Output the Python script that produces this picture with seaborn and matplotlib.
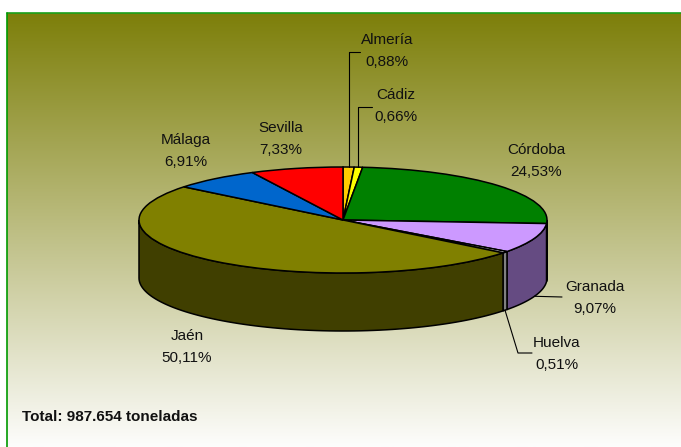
import numpy as np
import matplotlib
matplotlib.use("Agg")
import matplotlib.pyplot as plt
from matplotlib.patches import Polygon
import seaborn as sns

# ---------------- data ----------------
provinces = ["Almería", "Cádiz", "Córdoba", "Granada", "Huelva", "Jaén", "Málaga", "Sevilla"]
shares = [0.88, 0.66, 24.53, 9.07, 0.51, 50.11, 6.91, 7.33]
top_colors = ["#FFCC00", "#FFFF00", "#008000", "#CC99FF", "#FFFFFF", "#808000", "#0066CC", "#FF0000"]
side_colors = ["#806600", "#808000", "#004000", "#654B82", "#808080", "#403F00", "#003366", "#800000"]
total_text = "Total: 987.654 toneladas"

# ---------------- layout (pixels, origin top-left) ----------------
W, H = 681, 447
CX, CY, RX, RY = 343, 220, 204, 53     # ellipse of the top face
DEPTH_PX = 58
label_pos = {  # centre of each two-line label
    "Almería": (387, 51), "Cádiz": (396, 106), "Córdoba": (536, 161),
    "Granada": (595, 298), "Huelva": (557, 354), "Jaén": (187, 347),
    "Málaga": (186, 151), "Sevilla": (281, 139),
}

sns.set_theme(style="white")
plt.rcParams["font.family"] = ["Liberation Sans", "DejaVu Sans"]

fig = plt.figure(figsize=(W / 100, H / 100), dpi=100)
fig.patch.set_facecolor("white")

# background gradient panel
bg = fig.add_axes([0, 0, 1, 1])
bg.set_xlim(0, W)
bg.set_ylim(H, 0)
bg.axis("off")
top = np.array([125, 127, 10]) / 255
bot = np.array([253, 253, 252]) / 255
t = np.linspace(0, 1, 300)[:, None]
grad = (top[None, :] * (1 - t) + bot[None, :] * t)[:, None, :]
bg.imshow(grad, extent=[7, W + 10, 447, 13], aspect="auto", interpolation="bilinear", zorder=0)
bg.plot([7, W + 10], [13, 13], color="#1aa01a", lw=1.2, zorder=1)
bg.plot([7, 7], [13, H + 10], color="#009900", lw=1.2, zorder=1)
bg.set_xlim(0, W)
bg.set_ylim(H, 0)

# pie axes: full figure, data mapped so the unit circle becomes the ellipse
ax = fig.add_axes([0, 0, 1, 1])
ax.patch.set_alpha(0)

def to_data(px, py):
    return (px - CX) / RX, (CY - py) / RY

depth = DEPTH_PX / RY

wedges, _ = ax.pie(shares, colors=top_colors, startangle=90, counterclock=False,
                   wedgeprops=dict(edgecolor="black", linewidth=1.1))
for w in wedges:
    w.set_zorder(5)
ax.set_aspect("auto")
x0, y0 = to_data(0, H)
x1, y1 = to_data(W, 0)
ax.set_xlim(x0, x1)
ax.set_ylim(y0, y1)
ax.axis("off")

# side walls
cum = np.concatenate([[0], np.cumsum(shares)])
mids = {}
for i, name in enumerate(provinces):
    t_hi = 90 - cum[i] * 3.6
    t_lo = 90 - cum[i + 1] * 3.6
    mids[name] = np.radians((t_hi + t_lo) / 2)
    for k in (-360, 0, 360):
        lo = max(t_lo, -180 + k)
        hi = min(t_hi, 0 + k)
        if hi <= lo:
            continue
        th = np.radians(np.linspace(lo, hi, 80))
        xs = np.cos(th)
        ys = np.sin(th)
        verts = np.vstack([np.column_stack([xs, ys]),
                           np.column_stack([xs[::-1], ys[::-1] - depth])])
        ax.add_patch(Polygon(verts, closed=True, facecolor=side_colors[i],
                             edgecolor="black", linewidth=1.1, zorder=3))

# labels
for i, name in enumerate(provinces):
    px, py = label_pos[name]
    lx, ly = to_data(px, py)
    txt = f"{name}\n{shares[i]:.2f}".replace(".", ",") + "%"
    ax.text(lx, ly, txt, ha="center", va="center", fontsize=11,
            linespacing=1.75, color="#111111", zorder=10)

# leader lines
lc = dict(color="black", lw=0.8, zorder=8)
for name, left_px in (("Almería", 360), ("Cádiz", 372)):
    a = mids[name]
    ax_, ay_ = np.cos(a), np.sin(a)
    _, ly = to_data(0, label_pos[name][1] + 1)
    lx, _ = to_data(left_px, 0)
    ax.plot([ax_, ax_, lx], [ay_, ly, ly], **lc)

a = mids["Granada"]
gx, gy = np.cos(a), np.sin(a) - depth
ex, ey = to_data(562, 297)
ax.plot([gx, ex], [gy, ey], **lc)

a = mids["Huelva"]
hx, hy = np.cos(a), np.sin(a) - depth
e1 = to_data(518, 353)
e2 = to_data(532, 353)
ax.plot([hx, e1[0], e2[0]], [hy, e1[1], e2[1]], **lc)

# total
tx, ty = to_data(22, 417)
ax.text(tx, ty, total_text, ha="left", va="center", fontsize=11,
        fontweight="bold", color="#111111", zorder=10)

fig.savefig("out.png", dpi=100)
